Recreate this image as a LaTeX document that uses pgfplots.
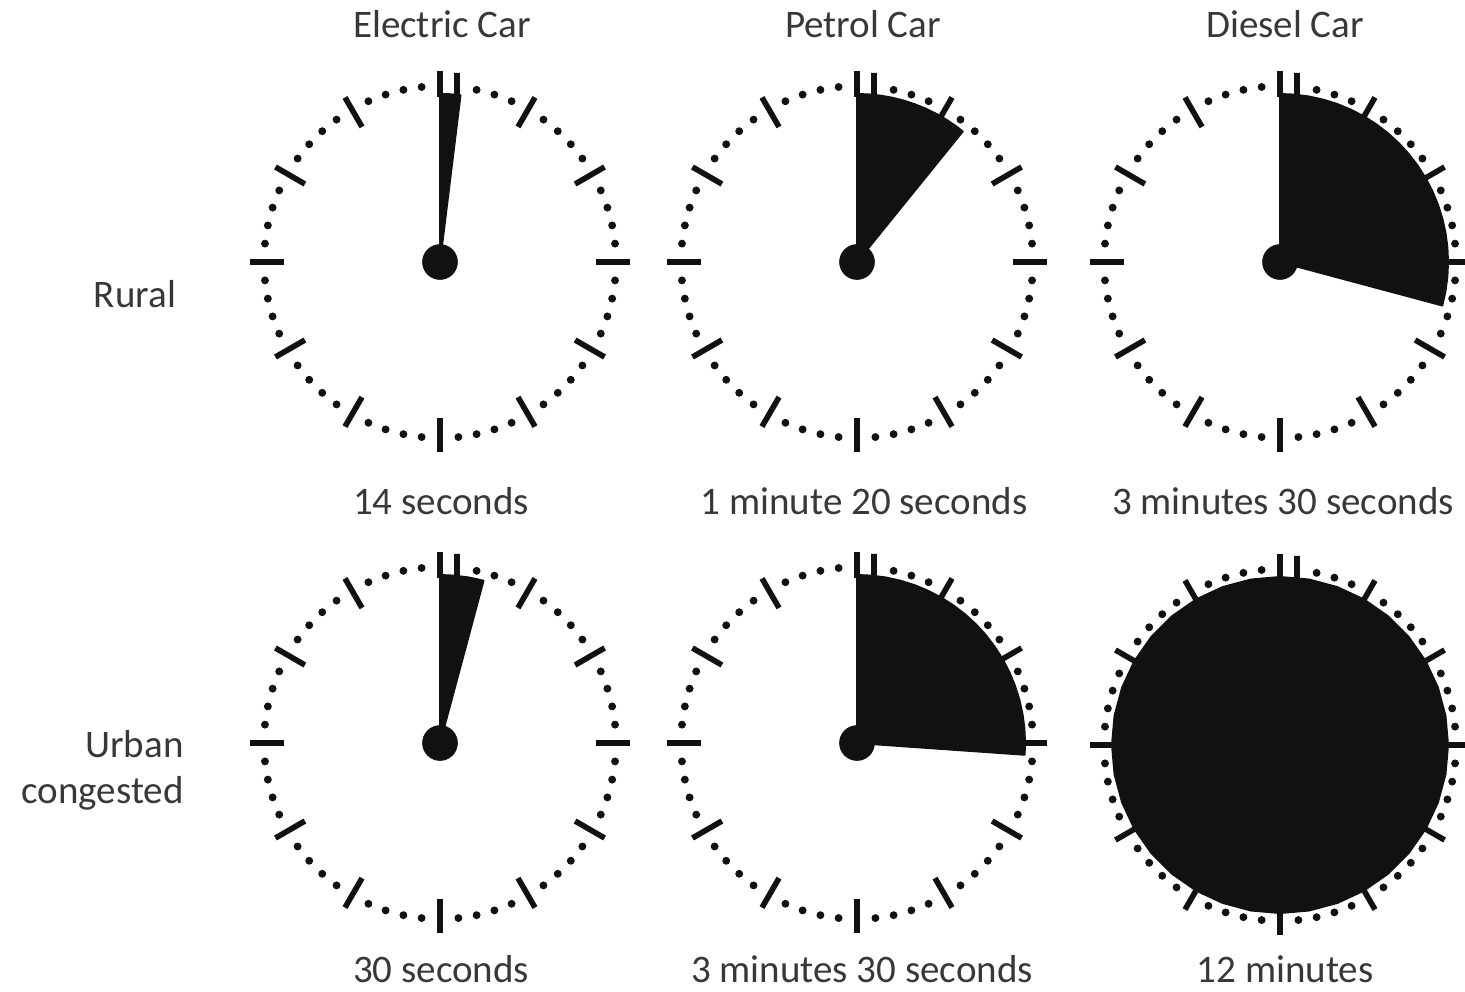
\documentclass[border=0pt]{standalone}
\usepackage{pgfplots}
\pgfplotsset{compat=1.18}
\usepgfplotslibrary{polar}
\usepackage{pgfplotstable}
\usepackage{fontspec}
\setmainfont{Carlito}

% minute dots of the clock face (angle in degrees, radius in px)
\pgfplotstableread{
angle r
6 176
12 176
18 176
24 176
36 176
42 176
48 176
54 176
66 176
72 176
78 176
96 176
102 176
108 176
114 176
126 176
132 176
138 176
144 176
156 176
162 176
168 176
174 176
186 176
192 176
198 176
204 176
216 176
222 176
228 176
234 176
246 176
252 176
258 176
264 176
276 176
282 176
288 176
294 176
306 176
312 176
318 176
324 176
336 176
342 176
348 176
354 176
}\minutedots

\definecolor{ink}{HTML}{111111}
\pgfplotsset{
  clockax/.style={hide axis, scale only axis, width=200pt, height=200pt,
    xmin=0, xmax=360, ymin=0, ymax=200, clip=false, anchor=center},
  wedge/.style={fill=ink, draw=ink, line width=1pt, line join=round},
}

\newcommand{\clockface}{%
  \addplot[only marks, mark=*, mark size=1.75pt, ink] table {\minutedots};
  \pgfplotsinvokeforeach{0,30,60,120,150,180,210,240,270,300,330}{%
    \draw[ink, line width=2.8pt] (axis cs:##1,156) -- (axis cs:##1,190);}
  \draw[ink, line width=2.8pt] (axis cs:90,165) -- (axis cs:90,191);
  \draw[ink, line width=2.8pt] (axis cs:84.15,166.9) -- (axis cs:84.86,189.8);
  \addplot[only marks, mark=*, mark size=8.7pt, ink] coordinates {(0,0)};
}

\tikzset{lbl/.style={inner sep=0pt, font=\fontsize{19.5}{23}\selectfont, text=black!78}}

\begin{document}
\begin{tikzpicture}[x=0.5pt, y=-0.5pt]
\path[use as bounding box] (0,0) rectangle (1465,991);
\coordinate (cER) at (440,262);
\coordinate (cPR) at (857,262);
\coordinate (cDR) at (1280,262);
\coordinate (cEU) at (440,743);
\coordinate (cPU) at (857,743);
\coordinate (cDU) at (1280,745);

% Rural, Electric: 14 seconds
\begin{polaraxis}[clockax, at={(cER)}]
\addplot[wedge] coordinates {(0,0) (90,168) (87,168) (83,168) (0,0)};
\clockface
\end{polaraxis}

% Rural, Petrol: 1 min 20 s
\begin{polaraxis}[clockax, at={(cPR)}]
\addplot[wedge] coordinates {(0,0) (90,168) (86,168) (82,168) (78,168) (74,168) (70,168) (66,168) (62,168) (58,168) (54,168) (51,168) (0,0)};
\clockface
\end{polaraxis}

% Rural, Diesel: 3 min 30 s
\begin{polaraxis}[clockax, at={(cDR)}]
\addplot[wedge] coordinates {(0,0) (90,168) (85,168) (80,168) (75,168) (70,168) (65,168) (60,168) (55,168) (50,168) (45,168) (40,168) (35,168) (30,168) (25,168) (20,168) (15,168) (10,168) (5,168) (0,168) (355,168) (350,168) (345,168) (0,0)};
\clockface
\end{polaraxis}

% Urban, Electric: 30 seconds
\begin{polaraxis}[clockax, at={(cEU)}]
\addplot[wedge] coordinates {(0,0) (90,168) (85,168) (80,168) (75,168) (0,0)};
\clockface
\end{polaraxis}

% Urban, Petrol: 3 min 30 s
\begin{polaraxis}[clockax, at={(cPU)}]
\addplot[wedge] coordinates {(0,0) (90,168) (85,168) (80,168) (75,168) (70,168) (65,168) (60,168) (55,168) (50,168) (45,168) (40,168) (35,168) (30,168) (25,168) (20,168) (15,168) (10,168) (5,168) (0,168) (356,168) (0,0)};
\clockface
\end{polaraxis}

% Urban, Diesel: 12 minutes
\begin{polaraxis}[clockax, at={(cDU)}]
\addplot[wedge] coordinates {(90,168) (80,168) (70,168) (60,168) (50,168) (40,168) (30,168) (20,168) (10,168) (0,168) (350,168) (340,168) (330,168) (320,168) (310,168) (300,168) (290,168) (280,168) (270,168) (260,168) (250,168) (240,168) (230,168) (220,168) (210,168) (200,168) (190,168) (180,168) (170,168) (160,168) (150,168) (140,168) (130,168) (120,168) (110,168) (100,168) (90,168)};
\clockface
\end{polaraxis}

% column titles
\node[lbl, anchor=base] at (442,37) {Electric Car};
\node[lbl, anchor=base] at (863,37) {Petrol Car};
\node[lbl, anchor=base] at (1285,37) {Diesel Car};

% row labels
\node[lbl, anchor=base] at (135,307) {Rural};
\node[lbl, anchor=base east] at (184,757) {Urban};
\node[lbl, anchor=base east] at (184,803) {congested};

% time labels
\node[lbl, anchor=base] at (441,514) {14 seconds};
\node[lbl, anchor=base] at (864,514) {1 minute 20 seconds};
\node[lbl, anchor=base] at (1283,514) {3 minutes 30 seconds};
\node[lbl, anchor=base] at (441,982) {30 seconds};
\node[lbl, anchor=base] at (862,982) {3 minutes 30 seconds};
\node[lbl, anchor=base] at (1285,982) {12 minutes};
\end{tikzpicture}
\end{document}
